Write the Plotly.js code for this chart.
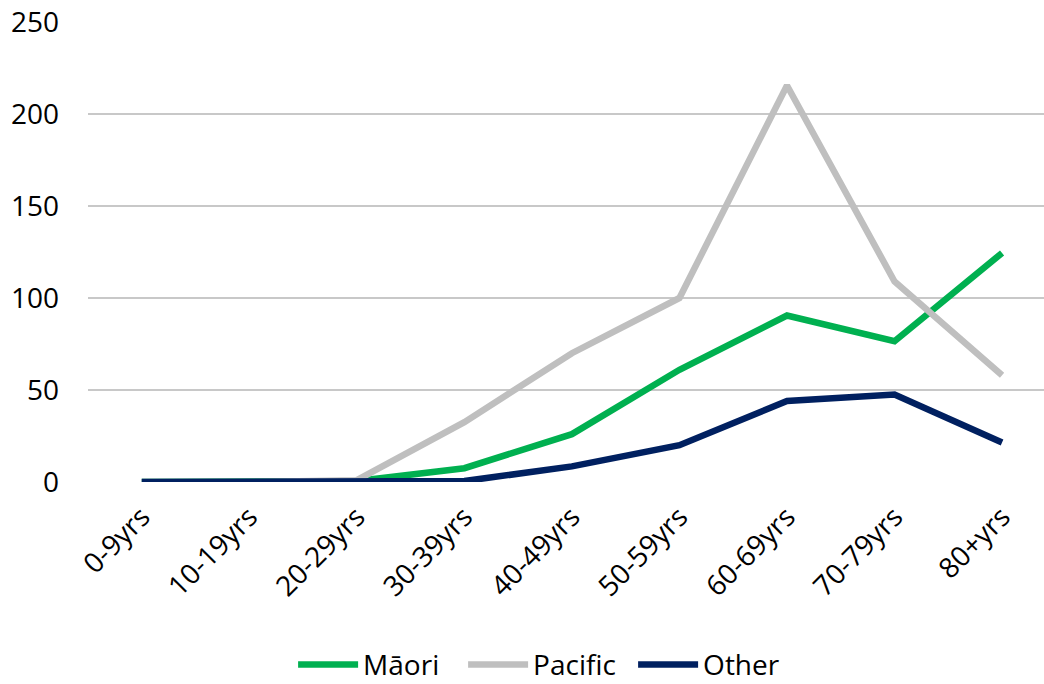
<!DOCTYPE html>
<html>
<head>
<meta charset="utf-8">
<script src="https://cdn.plot.ly/plotly-3.0.1.min.js"></script>
<style>html,body{margin:0;padding:0;background:#fff;}#chart{width:1044px;height:684px;}</style>
</head>
<body>
<div id="chart"></div>
<script>
const categories = ["0-9yrs","10-19yrs","20-29yrs","30-39yrs","40-49yrs","50-59yrs","60-69yrs","70-79yrs","80+yrs"];
const maori   = [0, 0, 0.5, 7.5, 26, 61, 90.5, 76.5, 124.5];
const pacific = [0, 0, 1, 32.5, 70, 100, 215.5, 109, 58];
const other   = [0, 0, 0, 0.5, 8.5, 20, 44, 47.5, 21.5];
const yTicks  = [0, 50, 100, 150, 200, 250];

const FONT = "'Open Sans', 'Noto Sans', sans-serif";
const mk = (name, y, color) => ({
  type: "scatter", mode: "lines", name: name,
  x: categories, y: y,
  line: {color: color, width: 6.5},
  hoverinfo: "skip"
});
const data = [
  mk("Māori", maori, "#00B050"),
  mk("Pacific", pacific, "#BFBFBF"),
  mk("Other", other, "#002060")
];
const layout = {
  width: 1044, height: 684,
  margin: {l: 88, r: 0, t: 22, b: 202, autoexpand: false},
  paper_bgcolor: "#fff", plot_bgcolor: "#fff",
  font: {family: FONT, size: 28, color: "#000"},
  showlegend: true,
  legend: {orientation: "h", x: 0.525, xanchor: "center", xref: "container",
           y: 0.028, yanchor: "middle", yref: "container",
           font: {family: FONT, size: 28, color: "#000"}, itemwidth: 60,
           entrywidth: 95, entrywidthmode: "pixels"},
  xaxis: {
    type: "category", range: [-0.5, 8.39], automargin: false,
    showgrid: false, zeroline: false, showline: false,
    ticks: "", tickangle: -45, ticklabelstandoff: 12,
    tickfont: {family: FONT, size: 28, color: "#000"}
  },
  yaxis: {
    range: [0, 250], automargin: false,
    tickvals: yTicks, ticktext: yTicks.map(String),
    showgrid: true, gridcolor: "#C8C8C8", gridwidth: 2,
    zeroline: false, showline: false, ticks: "",
    tickfont: {family: FONT, size: 28, color: "#000"},
    ticklabelstandoff: 28
  }
};
Plotly.newPlot("chart", data, layout, {displayModeBar: false, staticPlot: true});
</script>
</body>
</html>
